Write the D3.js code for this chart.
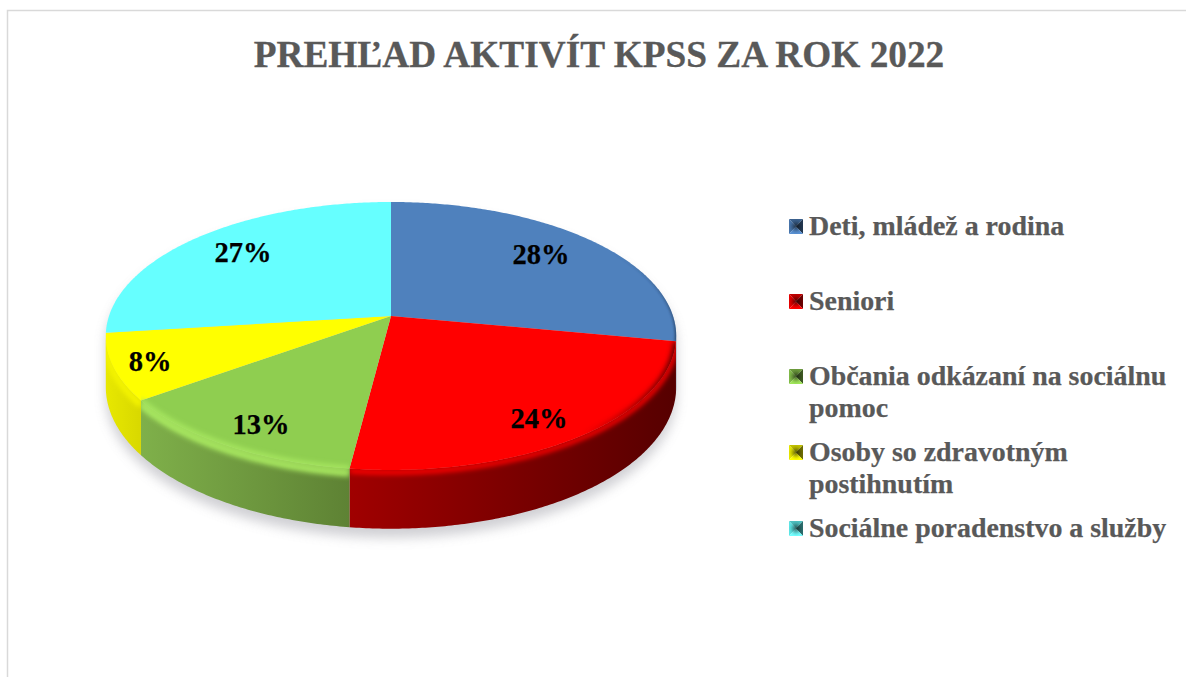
<!DOCTYPE html>
<html><head><meta charset="utf-8">
<script src="https://cdn.jsdelivr.net/npm/d3@7"></script>
<style>html,body{margin:0;padding:0;background:#fff}svg{display:block}</style>
</head><body><svg id="c" width="1186" height="677"></svg>
<script>
const titleText = "PREHĽAD AKTIVÍT KPSS ZA ROK 2022";
const categories = ["Deti, mládež a rodina","Seniori","Občania odkázaní na sociálnu pomoc","Osoby so zdravotným postihnutím","Sociálne poradenstvo a služby"];
const legendLines = [["Deti, mládež a rodina"],["Seniori"],["Občania odkázaní na sociálnu","pomoc"],["Osoby so zdravotným","postihnutím"],["Sociálne poradenstvo a služby"]];
const values = [28,24,13,8,27];
const topColors = ["#4f81bd","#ff0000","#8fce50","#ffff00","#66ffff"];
const sideLeft = ["#3a5f8c","#a00000","#7fb04a","#e8e800","#4cbfbf"];
const sideRight = ["#2c4a70","#560000","#5e8234","#d8d800","#3fa0a0"];
const rimColors = ["#4f81bd","#ff0000","#a8e860","#f4f400","#66ffff"];
const legendY = [226,301,376,452,528];
const labelPos = [[541,255],[539,419],[261,425],[150,362],[243,253]];

const W=1186,H=677,cx=391,cy=316,a=282,b=131,k=0.149,d=50;
const svg=d3.select("#c");
const defs=svg.append("defs");
defs.append("filter").attr("id","shadow").attr("x","-10%").attr("y","-20%").attr("width","120%").attr("height","140%")
  .append("feGaussianBlur").attr("stdDeviation",6);
defs.append("filter").attr("id","rim").attr("filterUnits","userSpaceOnUse").attr("x",0).attr("y",0).attr("width",W).attr("height",H)
  .append("feGaussianBlur").attr("stdDeviation",2.5);
defs.append("filter").attr("id","limb").attr("filterUnits","userSpaceOnUse").attr("x",0).attr("y",0).attr("width",W).attr("height",H)
  .append("feGaussianBlur").attr("stdDeviation",1);
const swatchShade=defs.append("radialGradient").attr("id","swatchShade");
swatchShade.append("stop").attr("offset",0).attr("stop-color","#000").attr("stop-opacity",0.55);
swatchShade.append("stop").attr("offset",0.75).attr("stop-color","#000").attr("stop-opacity",0.08);
swatchShade.append("stop").attr("offset",1).attr("stop-color","#000").attr("stop-opacity",0);

const sx=d3.scaleLinear().domain([-1,1]).range([cx-a,cx+a]);
const sy=d3.scaleLinear().domain([-1,1]).range([cy-b,cy+b]);
function proj(t,h){ // t: angle clockwise from top, h: 0 top face, 1 base
  const u=Math.sin(t),v=-Math.cos(t),w=1-k*v;
  return [cx+(sx(u)-cx)/w, cy+(sy(v)-cy)/w+h*d/w];
}
const line=d3.line();
function samples(t0,t1,h){
  const n=Math.max(2,Math.ceil(Math.abs(t1-t0)/0.01));
  return d3.range(n+1).map(i=>proj(t0+(t1-t0)*i/n,h));
}
const arcs=d3.pie().sort(null).value(d=>d)(values);
const tSil0=Math.acos(-k), tSil1=2*Math.PI-Math.acos(-k); // limb of the disc

// frame
svg.append("path").attr("d",`M7.5,${H}V10.5H${W}`).attr("fill","none").attr("stroke","#d9d9d9").attr("stroke-width",1.5);

// shadow
const silhouette=[...samples(0,tSil0,0),...samples(tSil0,tSil1,1),...samples(tSil1,2*Math.PI,0)];
svg.append("path").attr("d",line(silhouette)+"Z").attr("fill","#8f8f99").attr("opacity",0.42)
  .attr("filter","url(#shadow)").attr("transform","translate(0,9)");

// sides
arcs.forEach((s,i)=>{
  const t0=Math.max(s.startAngle,tSil0),t1=Math.min(s.endAngle,tSil1);
  if(t1<=t0) return;
  const xs=samples(t0,t1,0).map(p=>p[0]);
  const id="sg"+i;
  const g=defs.append("linearGradient").attr("id",id).attr("gradientUnits","userSpaceOnUse")
    .attr("x1",d3.min(xs)).attr("x2",d3.max(xs)).attr("y1",0).attr("y2",0);
  g.append("stop").attr("offset",0).attr("stop-color",sideLeft[i]);
  g.append("stop").attr("offset",1).attr("stop-color",sideRight[i]);
  svg.append("path").attr("d",line([...samples(t0,t1,0),...samples(t1,t0,1)])+"Z").attr("fill",`url(#${id})`);
});

// soft bevel on the front rim, kept on the side wall
arcs.forEach((s,i)=>{
  const t0=Math.max(s.startAngle,tSil0),t1=Math.min(s.endAngle,tSil1);
  if(t1<=t0||i===0) return;
  const cid="rc"+i;
  defs.append("clipPath").attr("id",cid).append("path")
    .attr("d",line([...samples(t0,t1,-0.3),...samples(t1,t0,1)])+"Z");
  svg.append("g").attr("clip-path",`url(#${cid})`).append("path")
    .attr("d",line(samples(t0,t1,i===1?0.04:0.08))).attr("fill","none")
    .attr("stroke",rimColors[i]).attr("stroke-width",i===1?5:7).attr("filter","url(#rim)");
});

// top faces
arcs.forEach((s,i)=>{
  const pts=[[cx,cy],...samples(s.startAngle,s.endAngle,0)];
  svg.append("path").attr("d",line(pts)+"Z").attr("fill",topColors[i]);
});

// green rim blends softly into its face
{
  const s=arcs[2];
  defs.append("clipPath").attr("id","fc2").append("path")
    .attr("d",line([...samples(s.startAngle,s.endAngle,-0.3),...samples(s.endAngle,s.startAngle,0.6)])+"Z");
  svg.append("g").attr("clip-path","url(#fc2)").append("path")
    .attr("d",line(samples(s.startAngle,s.endAngle,0))).attr("fill","none")
    .attr("stroke",rimColors[2]).attr("stroke-width",5).attr("filter","url(#rim)");
}

// dark shading creeping over the red face towards the right limb
{
  const s=arcs[1];
  const g=defs.append("linearGradient").attr("id","redEdge").attr("gradientUnits","userSpaceOnUse")
    .attr("x1",proj(s.startAngle+0.75,0)[0]).attr("x2",proj(s.startAngle,0)[0]).attr("y1",0).attr("y2",0);
  g.append("stop").attr("offset",0).attr("stop-color",sideRight[1]).attr("stop-opacity",0);
  g.append("stop").attr("offset",1).attr("stop-color",sideRight[1]).attr("stop-opacity",0.95);
  defs.append("clipPath").attr("id","fc1").append("path")
    .attr("d",line([[cx,cy],...samples(s.startAngle,s.startAngle+1.1,0)])+"Z");
  svg.append("g").attr("clip-path","url(#fc1)").append("path")
    .attr("d",line(samples(s.startAngle,s.startAngle+1.1,0.02))).attr("fill","none")
    .attr("stroke","url(#redEdge)").attr("stroke-width",6).attr("filter","url(#rim)");
}
// thin dark edge along the blue limb
{
  const s=arcs[0];
  defs.append("clipPath").attr("id","fc0").append("path")
    .attr("d",line([[cx,cy],...samples(s.endAngle-0.75,s.endAngle,0)])+"Z");
  const g=defs.append("linearGradient").attr("id","blueEdge").attr("gradientUnits","userSpaceOnUse")
    .attr("x1",0).attr("x2",0).attr("y1",proj(s.endAngle-0.75,0)[1]).attr("y2",proj(s.endAngle,0)[1]);
  g.append("stop").attr("offset",0).attr("stop-color",sideRight[0]).attr("stop-opacity",0);
  g.append("stop").attr("offset",1).attr("stop-color",sideRight[0]).attr("stop-opacity",1);
  svg.append("g").attr("clip-path","url(#fc0)").append("path")
    .attr("d",line(samples(s.endAngle-0.75,s.endAngle,0))).attr("fill","none")
    .attr("stroke","url(#blueEdge)").attr("stroke-width",3).attr("filter","url(#limb)");
}

// value labels
svg.append("g").selectAll("text").data(values).join("text")
  .attr("x",(d,i)=>labelPos[i][0]).attr("y",(d,i)=>labelPos[i][1]+9)
  .attr("text-anchor","middle").attr("font-family","Liberation Serif").attr("font-weight",700)
  .attr("font-size",28.5).attr("fill","#000").attr("stroke","#000").attr("stroke-width",0.25).text(d=>d+"%");

// title
svg.append("text").attr("x",599).attr("y",66.5).attr("text-anchor","middle")
  .attr("font-family","Liberation Serif").attr("font-weight",700).attr("font-size",37.3)
  .attr("fill","#595959").attr("stroke","#595959").attr("stroke-width",0.3).text(titleText);

// legend
const lg=svg.append("g").selectAll("g").data(categories).join("g")
  .attr("transform",(d,i)=>`translate(789,${legendY[i]})`);
lg.each(function(c,i){
  const g=d3.select(this);
  const base=d3.color(topColors[i]);
  const w=14,h=15,y0=-7,m=[w/2,y0+h/2];
  const tri=[
    [[0,y0],[w,y0],m, base.darker(0.8)],
    [[0,y0],[0,y0+h],m, base.darker(0.3)],
    [[w,y0],[w,y0+h],m, base.darker(2.4)],
    [[0,y0+h],[w,y0+h],m, base.brighter(0.3)]
  ];
  tri.forEach(t=>g.append("path").attr("d",line(t.slice(0,3))+"Z").attr("fill",t[3]));
  g.append("rect").attr("y",y0).attr("width",w).attr("height",h).attr("fill","url(#swatchShade)");
  legendLines[i].forEach((ln,j)=>g.append("text").attr("x",20).attr("y",9+j*32)
    .attr("font-family","Liberation Serif").attr("font-weight",700).attr("font-size",27.9)
    .attr("fill","#595959").attr("stroke","#595959").attr("stroke-width",0.25).text(ln));
});
</script></body></html>
